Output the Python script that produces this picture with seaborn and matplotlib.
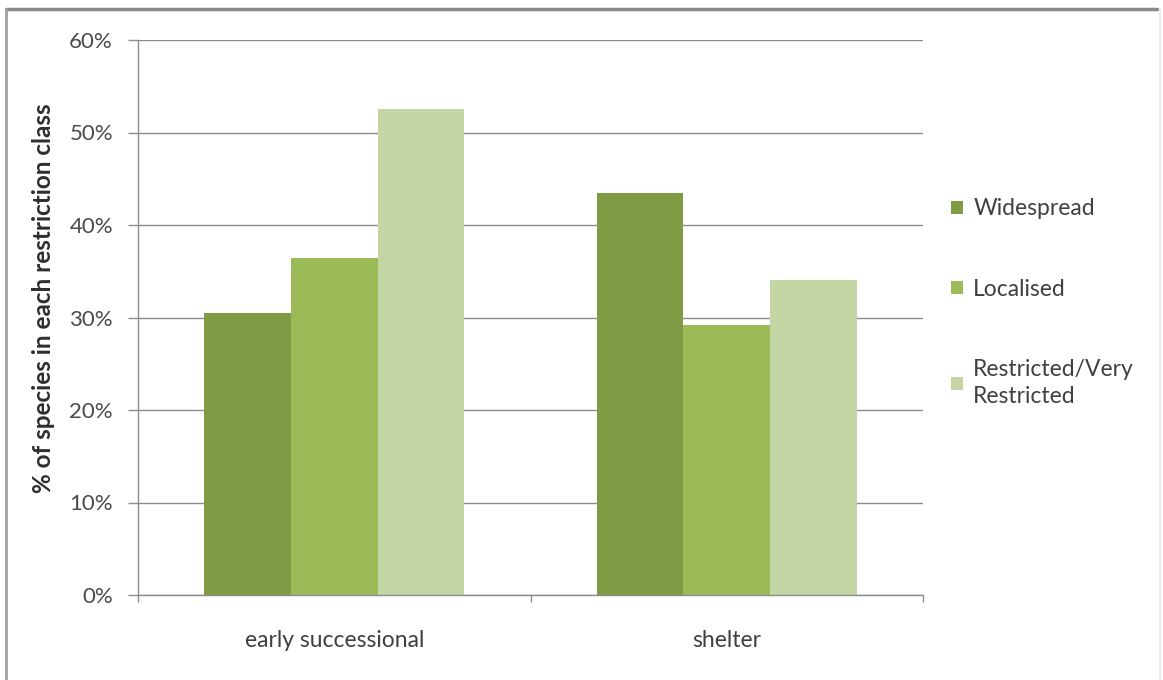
import matplotlib
matplotlib.use("Agg")
import matplotlib.pyplot as plt
from matplotlib.lines import Line2D
from matplotlib.ticker import FixedLocator, FuncFormatter
import seaborn as sns
import pandas as pd

# Share of species per restriction class, by habitat guild
categories = ["early successional", "shelter"]
classes = ["Widespread", "Localised", "Restricted/Very\nRestricted"]
widespread = [30.5, 43.5]
localised = [36.4, 29.2]
restricted = [52.5, 34.1]
y_ticks = [0, 10, 20, 30, 40, 50, 60]

colors = ["#7f9c45", "#9bbb59", "#c4d6a4"]

rows = []
for cls, vals in zip(classes, [widespread, localised, restricted]):
    for cat, v in zip(categories, vals):
        rows.append({"guild": cat, "cls": cls, "pct": v})
df = pd.DataFrame(rows)

sns.set_theme(style="white")
plt.rcParams["font.family"] = ["Lato", "DejaVu Sans"]

fig = plt.figure(figsize=(11.63, 6.80), dpi=100)
ax = fig.add_axes([138 / 1163, 1 - 595 / 680, 785 / 1163, 555 / 680])

sns.barplot(data=df, x="guild", y="pct", hue="cls", order=categories,
            hue_order=classes, palette=colors, width=0.662, gap=0,
            saturation=1, ax=ax, legend=True, linewidth=0)

grid_c = "#8c8c8c"
ax.set_xlim(-0.5, 1.5)
ax.set_ylim(0, 60)
ax.yaxis.set_major_locator(FixedLocator(y_ticks))
ax.yaxis.set_major_formatter(FuncFormatter(lambda v, p: f"{v:.0f}%"))
ax.yaxis.grid(True, color=grid_c, linewidth=1.0)
ax.set_axisbelow(True)

for s in ["top", "right"]:
    ax.spines[s].set_visible(False)
for s in ["left", "bottom"]:
    ax.spines[s].set_color(grid_c)
    ax.spines[s].set_linewidth(1.0)

ax.tick_params(axis="y", which="major", direction="out", length=7, width=1,
               color=grid_c, labelsize=16, labelcolor="#4a4a4a", pad=11, left=True)
ax.set_xticks([0, 1])
ax.set_xticklabels(categories)
ax.tick_params(axis="x", which="major", length=0, labelsize=16.5,
               labelcolor="#404040", pad=25)
ax.set_xticks([-0.5, 0.5, 1.5], minor=True)
ax.tick_params(axis="x", which="minor", direction="out", length=5, width=1,
               color=grid_c, bottom=True)

ax.set_xlabel("")
ax.set_ylabel("% of species in each restriction class", fontsize=17.5,
              fontweight="bold", color="#2e2e2e")
ax.yaxis.set_label_coords(-0.106, 0.535)

leg = ax.legend(loc="upper left", bbox_to_anchor=(1.01, 0.752), frameon=False,
                fontsize=16.5, labelspacing=2.6, handlelength=0.5,
                handleheight=0.5, handletextpad=0.45, labelcolor="#404040")
for h in leg.legend_handles:
    h.set_linewidth(0)
for t in leg.get_texts():
    t.set_linespacing(1.3)

# chart frame
fig.add_artist(Line2D([6 / 1163, 1157 / 1163], [1 - 9 / 680, 1 - 9 / 680],
                      transform=fig.transFigure, color="#8a8a8a", linewidth=2.5))
fig.add_artist(Line2D([6 / 1163, 6 / 1163], [0, 1 - 9 / 680],
                      transform=fig.transFigure, color="#a0a0a0", linewidth=2))
fig.add_artist(Line2D([1160 / 1163, 1160 / 1163], [0, 1 - 9 / 680],
                      transform=fig.transFigure, color="#ececec", linewidth=1.5))

fig.savefig("out.png", dpi=100)
